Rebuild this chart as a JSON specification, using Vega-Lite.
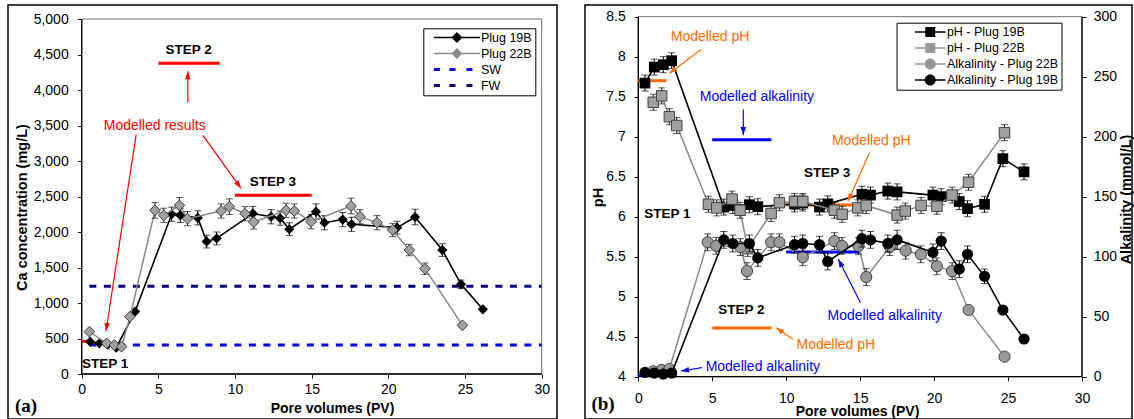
{
"$schema": "https://vega.github.io/schema/vega-lite/v6.json",
"background": "white",
"padding": {"left": 7, "top": 4, "right": 0, "bottom": 0},
"autosize": {"type": "pad"},
"spacing": 28,
"bounds": "flush",
"resolve": {"scale": {"fill": "independent", "shape": "independent", "stroke": "independent"}, "legend": {"fill": "independent", "shape": "independent"}},
"config": {
 "font": "Liberation Sans",
 "view": {"stroke": "#000", "strokeWidth": 1.5},
 "axis": {"grid": false, "domain": false, "ticks": true, "tickColor": "#000", "tickWidth": 1, "tickSize": 4, "labelColor": "#000", "labelFont": "Liberation Sans", "labelFontSize": 14, "titleColor": "#000", "titleFont": "Liberation Sans", "titleFontWeight": "bold", "titleFontSize": 14.5, "labelFlush": false, "labelOverlap": false, "labelBound": false},
 "legend": {"labelFont": "Liberation Sans", "labelFontSize": 12.5, "labelColor": "#000"}
},
"datasets": {
 "ca19": [{"pv":0.55,"v":455,"e":0},{"pv":1.15,"v":432,"e":0},{"pv":1.7,"v":415,"e":0},{"pv":2.25,"v":370,"e":0},{"pv":3.48,"v":880,"e":0},{"pv":5.87,"v":2250,"e":100},{"pv":6.43,"v":2235,"e":100},{"pv":7.57,"v":2200,"e":100},{"pv":8.15,"v":1865,"e":90},{"pv":8.8,"v":1910,"e":90},{"pv":11.16,"v":2260,"e":100},{"pv":12.35,"v":2215,"e":100},{"pv":12.94,"v":2195,"e":100},{"pv":13.54,"v":2040,"e":90},{"pv":15.28,"v":2286,"e":110},{"pv":15.83,"v":2131,"e":100},{"pv":17.02,"v":2175,"e":100},{"pv":17.6,"v":2108,"e":100},{"pv":20.57,"v":2061,"e":90},{"pv":21.74,"v":2211,"e":110},{"pv":23.52,"v":1746,"e":90},{"pv":24.74,"v":1263,"e":60},{"pv":26.16,"v":911,"e":0}],
 "ca22": [{"pv":0.5,"v":596,"e":0},{"pv":1.63,"v":432,"e":0},{"pv":2.13,"v":408,"e":0},{"pv":2.6,"v":385,"e":0},{"pv":3.15,"v":807,"e":0},{"pv":4.78,"v":2305,"e":110},{"pv":5.35,"v":2235,"e":100},{"pv":6.37,"v":2376,"e":110},{"pv":6.9,"v":2188,"e":100},{"pv":9.09,"v":2296,"e":100},{"pv":9.63,"v":2357,"e":110},{"pv":10.65,"v":2258,"e":100},{"pv":11.22,"v":2141,"e":100},{"pv":13.33,"v":2305,"e":100},{"pv":13.87,"v":2296,"e":100},{"pv":14.96,"v":2145,"e":100},{"pv":17.57,"v":2366,"e":110},{"pv":18.15,"v":2215,"e":100},{"pv":19.26,"v":2131,"e":100},{"pv":20.28,"v":2028,"e":90},{"pv":21.37,"v":1746,"e":80},{"pv":22.39,"v":1483,"e":80},{"pv":24.83,"v":686,"e":0}],
 "ph19": [{"pv":0.45,"v":7.67,"e":0.1},{"pv":1.08,"v":7.87,"e":0.1},{"pv":1.69,"v":7.9,"e":0.1},{"pv":2.26,"v":7.95,"e":0.1},{"pv":5.78,"v":6.12,"e":0.1},{"pv":6.39,"v":6.14,"e":0.1},{"pv":7.51,"v":6.15,"e":0.1},{"pv":8.08,"v":6.125,"e":0.1},{"pv":10.56,"v":6.16,"e":0.1},{"pv":11.12,"v":6.17,"e":0.1},{"pv":12.25,"v":6.12,"e":0.1},{"pv":12.81,"v":6.16,"e":0.1},{"pv":15.12,"v":6.28,"e":0.1},{"pv":15.7,"v":6.27,"e":0.1},{"pv":16.87,"v":6.32,"e":0.1},{"pv":17.5,"v":6.31,"e":0.1},{"pv":19.92,"v":6.27,"e":0.1},{"pv":20.48,"v":6.25,"e":0.1},{"pv":21.7,"v":6.19,"e":0.1},{"pv":22.26,"v":6.1,"e":0.1},{"pv":23.41,"v":6.155,"e":0.1},{"pv":24.65,"v":6.725,"e":0.1},{"pv":26.08,"v":6.56,"e":0.1}],
 "ph22": [{"pv":1.01,"v":7.43,"e":0.1},{"pv":1.58,"v":7.51,"e":0.1},{"pv":2.1,"v":7.25,"e":0.1},{"pv":2.6,"v":7.14,"e":0.1},{"pv":4.74,"v":6.155,"e":0.1},{"pv":5.3,"v":6.11,"e":0.1},{"pv":6.34,"v":6.22,"e":0.1},{"pv":6.88,"v":6.08,"e":0.1},{"pv":7.4,"v":5.6,"e":0.1},{"pv":8.98,"v":6.04,"e":0.1},{"pv":9.54,"v":6.175,"e":0.1},{"pv":10.56,"v":6.19,"e":0.1},{"pv":11.12,"v":6.19,"e":0.1},{"pv":13.26,"v":6.08,"e":0.1},{"pv":13.78,"v":6.03,"e":0.1},{"pv":14.84,"v":6.11,"e":0.1},{"pv":15.41,"v":6.14,"e":0.1},{"pv":17.5,"v":6.02,"e":0.1},{"pv":18.05,"v":6.07,"e":0.1},{"pv":19.12,"v":6.14,"e":0.1},{"pv":20.19,"v":6.13,"e":0.1},{"pv":21.22,"v":6.27,"e":0.1},{"pv":22.33,"v":6.43,"e":0.1},{"pv":24.76,"v":7.05,"e":0.1}],
 "alk22": [{"pv":1.01,"v":4.5,"e":0},{"pv":1.58,"v":5.6,"e":0},{"pv":2.1,"v":6.4,"e":0},{"pv":4.69,"v":112,"e":7},{"pv":5.26,"v":109,"e":7},{"pv":6.9,"v":108,"e":7},{"pv":7.35,"v":88,"e":7},{"pv":8.98,"v":112,"e":7},{"pv":9.54,"v":112,"e":7},{"pv":11.12,"v":99.5,"e":7},{"pv":13.26,"v":113,"e":7},{"pv":13.78,"v":109,"e":7},{"pv":14.89,"v":109,"e":7},{"pv":15.41,"v":83,"e":7},{"pv":17.0,"v":108,"e":7},{"pv":18.08,"v":105,"e":7},{"pv":19.1,"v":102,"e":7},{"pv":20.19,"v":92,"e":7},{"pv":21.22,"v":88,"e":7},{"pv":22.33,"v":55.6,"e":0},{"pv":24.76,"v":16.7,"e":0}],
 "alk19": [{"pv":0.45,"v":3.6,"e":0},{"pv":1.08,"v":3,"e":0},{"pv":1.69,"v":2.2,"e":0},{"pv":2.26,"v":3,"e":0},{"pv":5.78,"v":114,"e":7},{"pv":6.39,"v":111,"e":7},{"pv":7.51,"v":111,"e":7},{"pv":8.08,"v":99,"e":7},{"pv":10.56,"v":110,"e":7},{"pv":11.12,"v":111,"e":7},{"pv":12.25,"v":110,"e":7},{"pv":12.81,"v":96,"e":7},{"pv":15.12,"v":115,"e":7},{"pv":15.7,"v":114,"e":7},{"pv":16.87,"v":111,"e":7},{"pv":17.5,"v":114,"e":8},{"pv":19.92,"v":103.6,"e":7},{"pv":20.48,"v":113,"e":7},{"pv":21.7,"v":89.7,"e":7},{"pv":22.26,"v":102,"e":7},{"pv":23.41,"v":83.6,"e":6},{"pv":24.65,"v":55.5,"e":0},{"pv":26.08,"v":31.4,"e":0}]
},
"hconcat": [
{
 "width": 549, "height": 414,
 "encoding": {
  "x": {"field":"pv","type":"quantitative","scale":{"domain":[-4.807,30.998],"nice":false,"zero":false},"axis":{"values":[0,5,10,15,20,25,30],"offset":-45,"labelPadding":4,"title":"Pore volumes (PV)","titleFontSize":14,"titleX":324,"titleY":34,"titleBaseline":"middle","titleAlign":"center"}},
  "y": {"field":"v","type":"quantitative","scale":{"domain":[-633.8,5197.2],"nice":false,"zero":false},"axis":{"values":[0,500,1000,1500,2000,2500,3000,3500,4000,4500,5000],"format":",.0f","offset":-73.7,"labelPadding":9.5,"title":"Ca concentration (mg/L)","titleX":-59.3,"titleY":202,"titleAngle":270,"titleBaseline":"middle","titleAlign":"center"}}
 },
 "layer": [
  {"data":{"values":[{"pv":0,"pv2":30,"v":0,"v2":5000}]},"mark":{"type":"rect","filled":false,"color":"#6e6e6e","strokeWidth":1},"encoding":{"x2":{"field":"pv2"},"y2":{"field":"v2"}}},
  {"data":{"values":[{"pv":0,"v":0,"pv2":30,"v2":0},{"pv":0,"v":0,"pv2":0,"v2":5000}]},"mark":{"type":"rule","color":"#000","strokeWidth":1.3},"encoding":{"x2":{"field":"pv2"},"y2":{"field":"v2"}}},
  {"data":{"values":[{"s":"SW","pv":0.5,"pv2":30,"v":408},{"s":"FW","pv":0.5,"pv2":30,"v":1235}]},"mark":{"type":"rule","strokeWidth":3,"strokeDash":[7,7.5]},"encoding":{"x2":{"field":"pv2"},"stroke":{"field":"s","type":"nominal","scale":{"domain":["SW","FW"],"range":["#0000ff","#000080"]},"legend":null}}},
  {"data":{"values":[{"pv":0,"pv2":0.35,"v":460},{"pv":5,"pv2":9,"v":4376},{"pv":10,"pv2":15,"v":2517}]},"mark":{"type":"rule","color":"#ff0000","strokeWidth":3},"encoding":{"x2":{"field":"pv2"}}},
  {"data":{"name":"ca19"},"mark":{"type":"line","color":"#000","strokeWidth":1.6}},
  {"data":{"name":"ca19"},"mark":{"type":"errorbar","color":"#000","thickness":1,"ticks":{"size":7}},"encoding":{"yError":{"field":"e"}}},
  {"data":{"name":"ca19"},"mark":{"type":"point","shape":"diamond","filled":true,"size":105,"color":"#000","opacity":1}},
  {"data":{"name":"ca22"},"mark":{"type":"line","color":"#888888","strokeWidth":1.5}},
  {"data":{"name":"ca22"},"mark":{"type":"errorbar","color":"#111","thickness":1,"ticks":{"size":7}},"encoding":{"yError":{"field":"e"}}},
  {"data":{"name":"ca22"},"mark":{"type":"point","shape":"diamond","filled":true,"size":115,"fill":"#a0a0a0","stroke":"#404040","strokeWidth":1,"opacity":1}},
  {"data":{"values":[{"pv":6.92,"v":3823,"pv2":6.92,"v2":4263},{"pv":3.55,"v":3369,"pv2":1.585,"v2":606},{"pv":7.9,"v":3361,"pv2":10.39,"v2":2615}]},"mark":{"type":"rule","color":"#ff0000","strokeWidth":1.2},"encoding":{"x2":{"field":"pv2"},"y2":{"field":"v2"}}},
  {"data":{"values":[{"pv":6.92,"v":4263}]},"mark":{"type":"point","shape":"M0,0L-0.35,1L0.35,1Z","angle":0,"size":256,"filled":true,"color":"#ff0000","opacity":1}},
  {"data":{"values":[{"pv":1.585,"v":606}]},"mark":{"type":"point","shape":"M0,0L-0.35,1L0.35,1Z","angle":-171.3,"size":256,"filled":true,"color":"#ff0000","opacity":1}},
  {"data":{"values":[{"pv":10.39,"v":2615}]},"mark":{"type":"point","shape":"M0,0L-0.35,1L0.35,1Z","angle":144.2,"size":256,"filled":true,"color":"#ff0000","opacity":1}},
  {"data":{"values":[{"t":"Modelled results","pv":4.76,"v":3490}]},"mark":{"type":"text","fontSize":14,"color":"#ff0000","align":"center","baseline":"middle"},"encoding":{"text":{"field":"t"}}},
  {"data":{"values":[{"t":"STEP 2","pv":6.97,"v":4563},{"t":"STEP 3","pv":12.47,"v":2708},{"t":"STEP 1","pv":1.53,"v":137}]},"mark":{"type":"text","fontSize":13.5,"fontWeight":"bold","color":"#000","align":"center","baseline":"middle"},"encoding":{"text":{"field":"t"}}},
  {"data":{"values":[{"t":"(a)","pv":-3.633,"v":-444}]},"mark":{"type":"text","font":"Liberation Serif","fontSize":19,"fontWeight":"bold","color":"#000","align":"center","baseline":"middle"},"encoding":{"text":{"field":"t"}}},
  {"data":{"values":[{"s":"Plug 19B"}]},"transform":[{"filter":"false"}],"mark":{"type":"point","filled":true,"opacity":1},
   "encoding":{
    "fill":{"field":"s","type":"nominal","scale":{"domain":["Plug 19B","Plug 22B","SW","FW"],"range":["#000000","#8c8c8c","#0000ff","#000080"]},"legend":{"title":null,"orient":"none","legendX":415.3,"legendY":23.3,"padding":3,"symbolSize":64,"symbolStrokeWidth":0,"symbolOffset":24.4,"labelOffset":17.7,"rowPadding":3,"labelExpr":"datum.label + '\u00a0'","strokeColor":"#000","fillColor":"#fff","symbolOpacity":1}},
    "shape":{"field":"s","type":"nominal","scale":{"domain":["Plug 19B","Plug 22B","SW","FW"],"range":["M-5.75,-0.2H5.75V0.2H-5.75Z M0,-1.375L1.375,0L0,1.375L-1.375,0Z","M-5.75,-0.2H5.75V0.2H-5.75Z M0,-1.375L1.375,0L0,1.375L-1.375,0Z","M-5.75,-0.375h1.5v0.75h-1.5Z M-1.875,-0.375h1.5v0.75h-1.5Z M2.375,-0.375h1.5v0.75h-1.5Z","M-5.75,-0.375h1.5v0.75h-1.5Z M-1.875,-0.375h1.5v0.75h-1.5Z M2.375,-0.375h1.5v0.75h-1.5Z"]},"legend":{"title":null,"orient":"none","legendX":415.3,"legendY":23.3,"padding":3,"symbolSize":64,"symbolStrokeWidth":0,"symbolOffset":24.4,"labelOffset":17.7,"rowPadding":3,"labelExpr":"datum.label + '\u00a0'","strokeColor":"#000","fillColor":"#fff","symbolOpacity":1}}
   }}
 ]
},
{
 "width": 547, "height": 414,
 "layer": [
  {
   "encoding": {
    "x": {"field":"pv","type":"quantitative","scale":{"domain":[-3.604,33.381],"nice":false,"zero":false},"axis":{"values":[0,5,10,15,20,25,30],"offset":-42.3,"labelPadding":11,"title":"Pore volumes (PV)","titleFontSize":14,"titleX":272,"titleY":34.3,"titleBaseline":"middle","titleAlign":"center"}},
    "y": {"field":"v","type":"quantitative","scale":{"domain":[3.471,8.646],"nice":false,"zero":false},"axis":{"values":[4,4.5,5,5.5,6,6.5,7,7.5,8,8.5],"format":"~g","offset":-53.3,"labelPadding":9,"title":"pH","titleX":-40.3,"titleY":192,"titleAngle":270,"titleBaseline":"middle","titleAlign":"center"}}
   },
   "layer": [
    {"data":{"values":[{"pv":0,"pv2":30,"v":4,"v2":8.5}]},"mark":{"type":"rect","filled":false,"color":"#6e6e6e","strokeWidth":1},"encoding":{"x2":{"field":"pv2"},"y2":{"field":"v2"}}},
    {"data":{"values":[{"pv":0,"v":4,"pv2":30,"v2":4},{"pv":0,"v":4,"pv2":0,"v2":8.5},{"pv":30,"v":4,"pv2":30,"v2":8.5}]},"mark":{"type":"rule","color":"#000","strokeWidth":1.3},"encoding":{"x2":{"field":"pv2"},"y2":{"field":"v2"}}},
    {"data":{"values":[{"pv":0,"pv2":1.9,"v":7.7},{"pv":5,"pv2":9,"v":4.61},{"pv":10,"pv2":14.45,"v":6.146}]},"mark":{"type":"rule","color":"#ff6a00","strokeWidth":3},"encoding":{"x2":{"field":"pv2"}}},
    {"data":{"name":"ph19"},"mark":{"type":"line","color":"#000","strokeWidth":1.6}},
    {"data":{"name":"ph19"},"mark":{"type":"errorbar","color":"#000","thickness":1,"ticks":{"size":7}},"encoding":{"yError":{"field":"e"}}},
    {"data":{"name":"ph19"},"mark":{"type":"point","shape":"square","filled":true,"size":115,"color":"#000","opacity":1}},
    {"data":{"name":"ph22"},"mark":{"type":"line","color":"#888888","strokeWidth":1.5}},
    {"data":{"name":"ph22"},"mark":{"type":"errorbar","color":"#111","thickness":1,"ticks":{"size":7}},"encoding":{"yError":{"field":"e"}}},
    {"data":{"name":"ph22"},"mark":{"type":"point","shape":"square","filled":true,"size":110,"fill":"#a0a0a0","stroke":"#404040","strokeWidth":1,"opacity":1}},
    {"data":{"values":[{"pv":4.24,"v":8.09,"pv2":2.1,"v2":7.79},{"pv":15.63,"v":6.8,"pv2":14.17,"v2":6.19},{"pv":10.45,"v":4.4675,"pv2":9.32,"v2":4.6125}]},"mark":{"type":"rule","color":"#ff6a00","strokeWidth":1.2},"encoding":{"x2":{"field":"pv2"},"y2":{"field":"v2"}}},
    {"data":{"values":[{"pv":7.1,"v":7.34,"pv2":7.1,"v2":7.02},{"pv":15.02,"v":4.925,"pv2":13.53,"v2":5.4675},{"pv":4.31,"v":4.1125,"pv2":2.89,"v2":4.071}]},"mark":{"type":"rule","color":"#0000ff","strokeWidth":1.2},"encoding":{"x2":{"field":"pv2"},"y2":{"field":"v2"}}},
    {"data":{"values":[{"pv":2.1,"v":7.79}]},"mark":{"type":"point","shape":"M0,0L-0.35,1L0.35,1Z","angle":-127.6,"size":256,"filled":true,"color":"#ff6a00","opacity":1}},
    {"data":{"values":[{"pv":14.17,"v":6.19}]},"mark":{"type":"point","shape":"M0,0L-0.35,1L0.35,1Z","angle":-156.2,"size":256,"filled":true,"color":"#ff6a00","opacity":1}},
    {"data":{"values":[{"pv":9.32,"v":4.6125}]},"mark":{"type":"point","shape":"M0,0L-0.35,1L0.35,1Z","angle":-55.2,"size":256,"filled":true,"color":"#ff6a00","opacity":1}},
    {"data":{"values":[{"pv":7.1,"v":7.02}]},"mark":{"type":"point","shape":"M0,0L-0.35,1L0.35,1Z","angle":180,"size":256,"filled":true,"color":"#0000ff","opacity":1}},
    {"data":{"values":[{"pv":13.53,"v":5.4675}]},"mark":{"type":"point","shape":"M0,0L-0.35,1L0.35,1Z","angle":-26.9,"size":256,"filled":true,"color":"#0000ff","opacity":1}},
    {"data":{"values":[{"pv":2.89,"v":4.071}]},"mark":{"type":"point","shape":"M0,0L-0.35,1L0.35,1Z","angle":-98.9,"size":256,"filled":true,"color":"#0000ff","opacity":1}},
    {"data":{"values":[{"t":"Modelled pH","pv":4.85,"v":8.246},{"t":"Modelled pH","pv":15.75,"v":6.95},{"t":"Modelled pH","pv":13.36,"v":4.4}]},"mark":{"type":"text","fontSize":14,"color":"#ff6a00","align":"center","baseline":"middle"},"encoding":{"text":{"field":"t"}}},
    {"data":{"values":[{"t":"Modelled alkalinity","pv":8.02,"v":7.49},{"t":"Modelled alkalinity","pv":16.66,"v":4.76},{"t":"Modelled alkalinity","pv":8.42,"v":4.125}]},"mark":{"type":"text","fontSize":14,"color":"#0000ff","align":"center","baseline":"middle"},"encoding":{"text":{"field":"t"}}},
    {"data":{"values":[{"t":"STEP 1","pv":1.96,"v":6.03},{"t":"STEP 2","pv":6.97,"v":4.83},{"t":"STEP 3","pv":12.76,"v":6.54}]},"mark":{"type":"text","fontSize":13.5,"fontWeight":"bold","color":"#000","align":"center","baseline":"middle"},"encoding":{"text":{"field":"t"}}},
    {"data":{"values":[{"t":"(b)","pv":-2.387,"v":3.659}]},"mark":{"type":"text","font":"Liberation Serif","fontSize":19,"fontWeight":"bold","color":"#000","align":"center","baseline":"middle"},"encoding":{"text":{"field":"t"}}}
   ]
  },
  {
   "encoding": {
    "x": {"field":"pv","type":"quantitative","scale":{"domain":[-3.604,33.381],"nice":false,"zero":false},"axis":{"values":[0,5,10,15,20,25,30],"offset":-42.3,"labelPadding":11,"title":"Pore volumes (PV)","titleFontSize":14,"titleX":272,"titleY":34.3,"titleBaseline":"middle","titleAlign":"center"}},
    "y": {"field":"v","type":"quantitative","scale":{"domain":[-35.27,309.73],"nice":false,"zero":false},"axis":{"orient":"right","values":[0,50,100,150,200,250,300],"offset":-49.8,"labelPadding":7,"title":"Alkalinity (mmol/L)","titleX":43.8,"titleY":194,"titleAngle":270,"titleBaseline":"middle","titleAlign":"center"}}
   },
   "layer": [
    {"data":{"values":[{"pv":0,"pv2":0.3,"v":1},{"pv":5,"pv2":9,"v":197.5},{"pv":10,"pv2":15,"v":104}]},"mark":{"type":"rule","color":"#0000ff","strokeWidth":3},"encoding":{"x2":{"field":"pv2"}}},
    {"data":{"name":"alk22"},"mark":{"type":"line","color":"#888888","strokeWidth":1.5}},
    {"data":{"name":"alk22"},"mark":{"type":"errorbar","color":"#111","thickness":1,"ticks":{"size":7}},"encoding":{"yError":{"field":"e"}}},
    {"data":{"name":"alk22"},"mark":{"type":"point","shape":"circle","filled":true,"size":125,"fill":"#999999","stroke":"#404040","strokeWidth":1,"opacity":1}},
    {"data":{"name":"alk19"},"mark":{"type":"line","color":"#000","strokeWidth":1.6}},
    {"data":{"name":"alk19"},"mark":{"type":"errorbar","color":"#000","thickness":1,"ticks":{"size":7}},"encoding":{"yError":{"field":"e"}}},
    {"data":{"name":"alk19"},"mark":{"type":"point","shape":"circle","filled":true,"size":125,"color":"#000","opacity":1}},
    {"data":{"values":[{"s":"pH - Plug 19B"}]},"transform":[{"filter":"false"}],"mark":{"type":"point","filled":true,"opacity":1},
     "encoding":{
      "fill":{"field":"s","type":"nominal","scale":{"domain":["pH - Plug 19B","pH - Plug 22B","Alkalinity - Plug 22B","Alkalinity - Plug 19B"],"range":["#000000","#999999","#999999","#000000"]},"legend":{"title":null,"orient":"none","legendX":311.5,"legendY":17.7,"padding":3,"symbolSize":64,"symbolStrokeWidth":0,"symbolOffset":24.5,"labelOffset":10.4,"rowPadding":3,"labelExpr":"datum.label + '\u00a0\u00a0\u00a0'","strokeColor":"#000","fillColor":"#fff","symbolOpacity":1}},
      "shape":{"field":"s","type":"nominal","scale":{"domain":["pH - Plug 19B","pH - Plug 22B","Alkalinity - Plug 22B","Alkalinity - Plug 19B"],"range":["M-3.83,-0.2H3.83V0.2H-3.83Z M-1.25,-1.25H1.25V1.25H-1.25Z","M-3.83,-0.2H3.83V0.2H-3.83Z M-1.25,-1.25H1.25V1.25H-1.25Z","M-3.83,-0.2H3.83V0.2H-3.83Z M-1.375,0A1.375,1.375,0,1,1,1.375,0A1.375,1.375,0,1,1,-1.375,0Z","M-3.83,-0.2H3.83V0.2H-3.83Z M-1.375,0A1.375,1.375,0,1,1,1.375,0A1.375,1.375,0,1,1,-1.375,0Z"]},"legend":{"title":null,"orient":"none","legendX":311.5,"legendY":17.7,"padding":3,"symbolSize":64,"symbolStrokeWidth":0,"symbolOffset":24.5,"labelOffset":10.4,"rowPadding":3,"labelExpr":"datum.label + '\u00a0\u00a0\u00a0'","strokeColor":"#000","fillColor":"#fff","symbolOpacity":1}}
     }}
   ]
  }
 ],
 "resolve": {"scale": {"y": "independent"}, "axis": {"y": "independent"}}
}
]
}
